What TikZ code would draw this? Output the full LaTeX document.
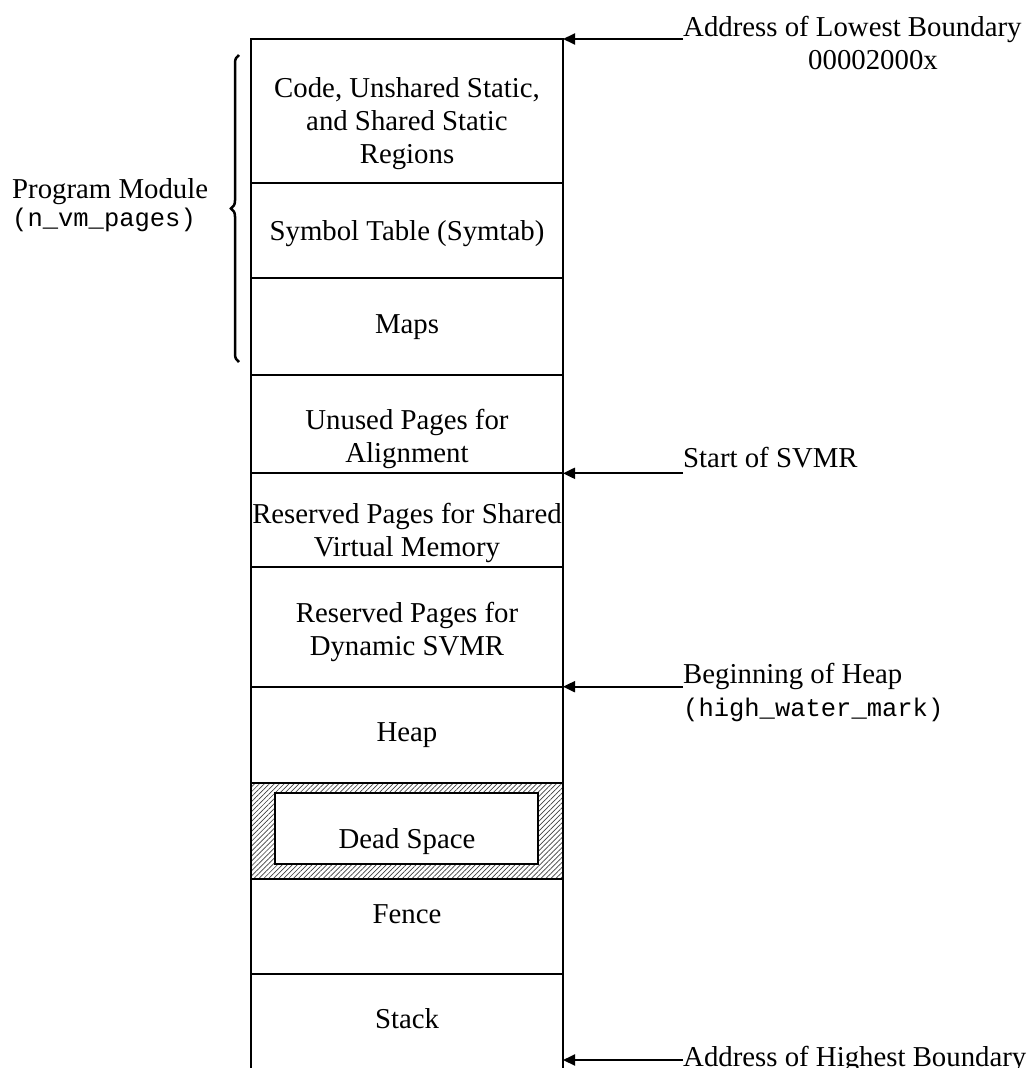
\documentclass[tikz,border=0pt]{standalone}
\usepackage{fontspec}
\setmainfont{Liberation Serif}
\setmonofont{Liberation Mono}
\usetikzlibrary{arrows.meta,patterns.meta,decorations.pathreplacing}

% centred / left-aligned multi-line labels whose baseline is the first line
\newcommand\lblc[1]{\begin{tabular}[t]{@{}c@{}}#1\end{tabular}}
\newcommand\lbll[1]{\begin{tabular}[t]{@{}l@{}}#1\end{tabular}}
\newcommand\code[1]{{\fontsize{25.5}{33}\selectfont\ttfamily #1}}

\begin{document}
\begin{tikzpicture}[x=1pt,y=-1pt,
  txt/.style={font=\fontsize{28.8}{33}\selectfont, inner sep=0pt, anchor=base},
  side/.style={font=\fontsize{28.8}{33}\selectfont, inner sep=0pt, anchor=base west},
  wall/.style={line width=2.2pt},
  ptr/.style={line width=2pt, -{Triangle[length=12pt,width=11pt]}},
  bracket/.style={line width=2.5pt, decorate, decoration={brace, amplitude=8pt}},
]
\useasboundingbox (0,0) rectangle (1034,1068);

% hatched dead-space band with its inner box
\path[pattern={Lines[angle=45,distance=3.5pt,line width=0.7pt]}, pattern color=black!75]
  (251,782.7) rectangle (563,879);
\draw[wall, fill=white] (275,793) rectangle (538,864);

% column walls and region dividers
\draw[wall] (251,1068) -- (251,39) -- (563,39) -- (563,1068);
\foreach \y in {183.3,278.3,375,473.3,566.7,686.7,782.7,879,974}
  \draw[wall] (251,\y) -- (563,\y);

% region names
\node[txt] (code)   at (407,97)    {\lblc{Code, Unshared Static,\\and Shared Static\\Regions}};
\node[txt] (symtab) at (407,240)   {Symbol Table (Symtab)};
\node[txt] (maps)   at (407,333)   {Maps};
\node[txt] (unused) at (407,429.3) {\lblc{Unused Pages for\\Alignment}};
\node[txt] (shared) at (407,523)   {\lblc{Reserved Pages for Shared\\Virtual Memory}};
\node[txt] (dyn)    at (407,622.5) {\lblc{Reserved Pages for\\Dynamic SVMR}};
\node[txt] (heap)   at (407,741.7) {Heap};
\node[txt] (dead)   at (407,848.3) {Dead Space};
\node[txt] (fence)  at (407,923.3) {Fence};
\node[txt] (stack)  at (407,1028.3){Stack};

% boundary points on the right wall
\coordinate (b0) at (563,39);
\coordinate (b1) at (563,473.3);
\coordinate (b2) at (563,686.7);
\coordinate (b3) at (563,1060);

% boundary labels and pointers
\node[side] (low)   at (683,36.7) {\lbll{Address of Lowest Boundary\\\hspace*{125pt}00002000x}};
\node[side] (svmr)  at (683,467)  {Start of SVMR};
\node[side] (heapb) at (683,683)  {\lbll{Beginning of Heap\\\code{(high\_water\_mark)}}};
\node[side] (high)  at (683,1066) {Address of Highest Boundary};

\draw[ptr] (low.west |- b0)   -- (b0);
\draw[ptr] (svmr.west |- b1)  -- (b1);
\draw[ptr] (heapb.west |- b2) -- (b2);
\draw[ptr] (high.west |- b3)  -- (b3);

% program module brace
\node[side] (pm) at (12,198) {\lbll{Program Module\\[-5pt]\code{(n\_vm\_pages)}}};
\draw[bracket] (239,362) -- (239,55);
\end{tikzpicture}
\end{document}
